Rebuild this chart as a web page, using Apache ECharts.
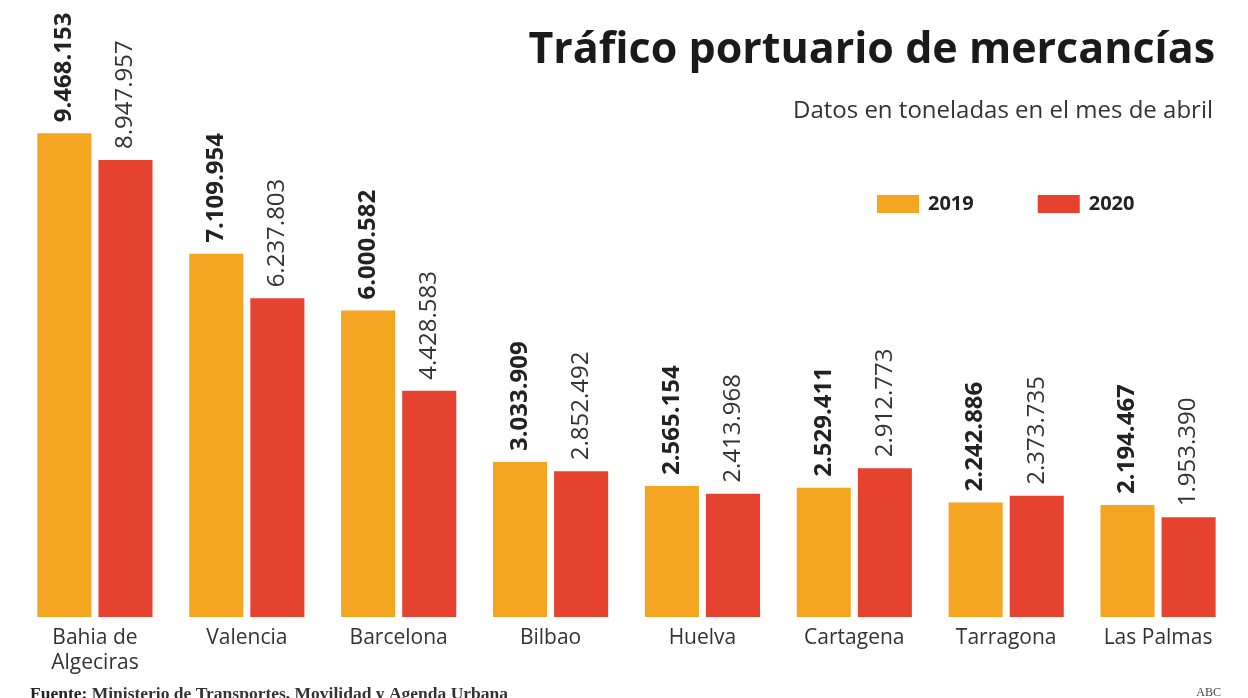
<!DOCTYPE html>
<html>
<head>
<meta charset="utf-8">
<script src="https://cdn.jsdelivr.net/npm/echarts@6/dist/echarts.min.js"></script>
<style>html,body{margin:0;padding:0;background:#fff}#c{width:1248px;height:698px}</style>
</head>
<body>
<div id="c"></div>
<script>
const categories = ['Bahia de\nAlgeciras','Valencia','Barcelona','Bilbao','Huelva','Cartagena','Tarragona','Las Palmas'];
const values2019 = [9468153, 7109954, 6000582, 3033909, 2565154, 2529411, 2242886, 2194467];
const values2020 = [8947957, 6237803, 4428583, 2852492, 2413968, 2912773, 2373735, 1953390];

const FONT = '"Open Sans", "Noto Sans", sans-serif';
function fmt(v){ return String(v).replace(/\B(?=(\d{3})+(?!\d))/g, '.'); }

const chart = echarts.init(document.getElementById('c'));
chart.setOption({
  animation: false,
  backgroundColor: '#fff',
  title: [
    { text: 'Tráfico portuario de mercancías', right: 28, top: 24,
      textStyle: { fontFamily: FONT, fontSize: 43, fontWeight: 'bold', color: '#1a1a1a', letterSpacing: -1.2 } },
    { text: 'Datos en toneladas en el mes de abril', right: 30, top: 94,
      textStyle: { fontFamily: FONT, fontSize: 24, fontWeight: 'normal', color: '#333', letterSpacing: 0 } },
    { text: '{b|Fuente:} Ministerio de Transportes, Movilidad y Agenda Urbana', left: 25, top: 680,
      textStyle: { fontFamily: '"Liberation Serif", serif', fontSize: 17.5, color: '#333',
        rich: { b: { fontFamily: '"Liberation Serif", serif', fontSize: 17.5, fontWeight: 'bold', color: '#222' } } } },
    { text: 'ABC', right: 22, top: 682,
      textStyle: { fontFamily: '"Liberation Serif", serif', fontSize: 12, fontWeight: 'normal', color: '#444' } }
  ],
  legend: {
    left: 872, top: 189, itemWidth: 42, itemHeight: 18, itemGap: 64,
    icon: 'rect',
    textStyle: { fontFamily: FONT, fontSize: 20, fontWeight: 'bold', color: '#222', padding: [0,0,0,4] },
    data: ['2019','2020']
  },
  grid: { left: 19, right: 14, top: 4, bottom: 81, containLabel: false },
  xAxis: {
    type: 'category', data: categories,
    axisLine: { show: false }, axisTick: { show: false },
    axisLabel: { fontFamily: FONT, fontSize: 21, color: '#333', margin: 9, lineHeight: 25, interval: 0 }
  },
  yAxis: {
    type: 'value', min: 0, max: 12000000,
    show: false, splitLine: { show: false }
  },
  series: [
    { name: '2019', type: 'bar', data: values2019, barWidth: '35.6%', barGap: '13%',
      itemStyle: { color: '#F4A522' },
      label: { show: true, position: 'top', rotate: 90, align: 'left', verticalAlign: 'middle', distance: 11,
        fontFamily: FONT, fontSize: 24, fontWeight: 'bold', color: '#222', letterSpacing: -0.5, formatter: p => fmt(p.value) } },
    { name: '2020', type: 'bar', data: values2020, barWidth: '35.6%',
      itemStyle: { color: '#E5432F' },
      label: { show: true, position: 'top', rotate: 90, align: 'left', verticalAlign: 'middle', distance: 11,
        fontFamily: FONT, fontSize: 24, fontWeight: 'normal', color: '#333', letterSpacing: -0.5, formatter: p => fmt(p.value) } }
  ]
});
</script>
</body>
</html>
